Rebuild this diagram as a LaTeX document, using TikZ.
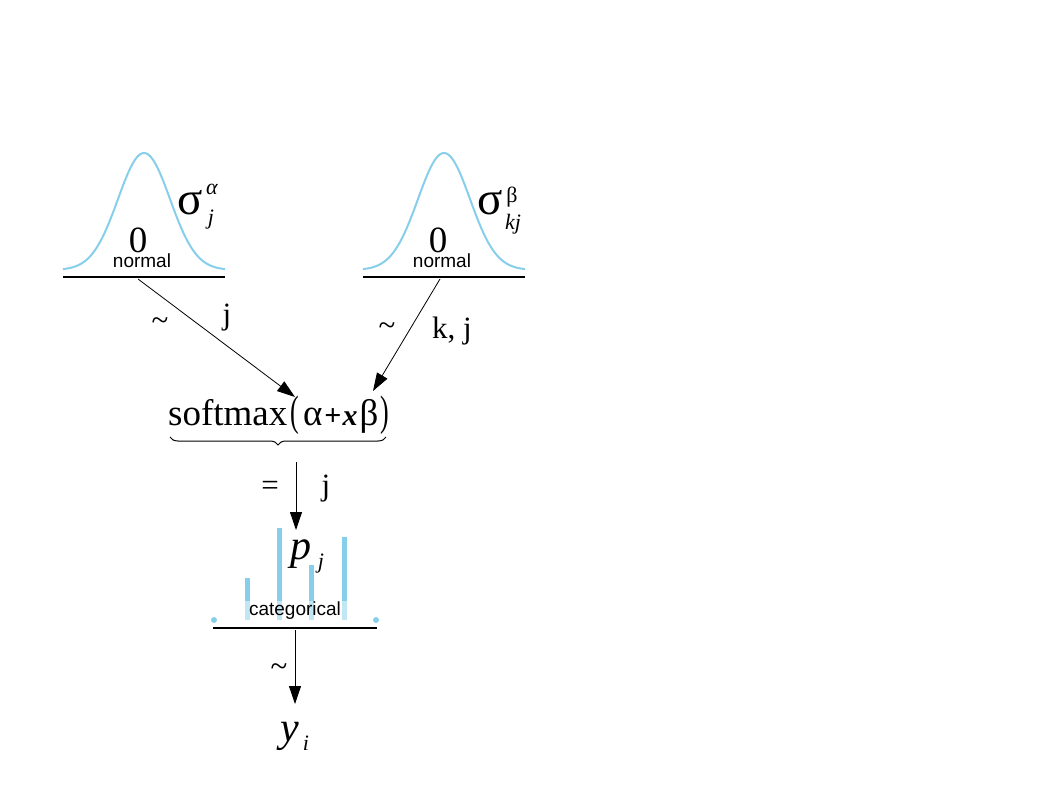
\documentclass[tikz,border=0pt]{standalone}
\usepackage{fontspec}
\setmainfont{Liberation Serif}
\newfontfamily\distfont{Liberation Sans}
\usetikzlibrary{arrows.meta,decorations.pathreplacing}
\definecolor{distblue}{HTML}{87CEEB}
\tikzset{
  distcurve/.style={distblue,line width=2pt},
  distbase/.style={line width=1.2pt},
  edge/.style={-{Triangle[length=18pt,width=12pt]},line width=0.8pt},
  lbl/.style={font=\fontsize{31}{31}\selectfont,anchor=base,inner sep=0pt},
  bigtxt/.style={font=\fontsize{37}{40}\selectfont,anchor=base,inner sep=0pt},
  subtxt/.style={font=\fontsize{22}{24}\selectfont,anchor=base,inner sep=0pt},
  distname/.style={font=\distfont\fontsize{19}{20}\selectfont,anchor=base,inner sep=0pt}
}
\newcommand{\tallparen}[1]{\scalebox{0.7}[1.15]{#1}}
\begin{document}
\begin{tikzpicture}[x=1pt,y=-1pt]
  \useasboundingbox (0,0) rectangle (1058,794);
  % prior on alpha
  \draw[distcurve] plot[domain=-81:81,samples=80,smooth] ({144+\x},{270-117*exp(-0.5*(\x/26)*(\x/26))});
  \draw[distbase] (63,277) -- (225,277);
  \node[bigtxt] (zeroA) at (138,253) {0};
  \node[distname] (normA) at (142,268) {normal};
  \node[bigtxt,font=\fontsize{47}{48}\selectfont] (sigA) at (190,215) {σ};
  \node[subtxt,font=\fontsize{22}{24}\selectfont\itshape] (supA) at (212,195) {α};
  \node[subtxt] (subA) at (211,225) {\textit{j}};
  \coordinate (botA) at (138,279);
  % prior on beta
  \draw[distcurve] plot[domain=-81:81,samples=80,smooth] ({444+\x},{270-117*exp(-0.5*(\x/26)*(\x/26))});
  \draw[distbase] (363,277) -- (525,277);
  \node[bigtxt] (zeroB) at (438,253) {0};
  \node[distname] (normB) at (442,268) {normal};
  \node[bigtxt,font=\fontsize{47}{48}\selectfont] (sigB) at (490,215) {σ};
  \node[subtxt] (supB) at (512,203) {β};
  \node[subtxt] (subB) at (513,230) {\textit{kj}};
  \coordinate (botB) at (440,279);
  % linear predictor
  \node[bigtxt,anchor=base west] (lin) at (168,425)
    {softmax\kern3pt\tallparen{(}\kern4pt α\kern2pt{\fontsize{30}{30}\selectfont\bfseries +\kern1pt\textit{x}}\kern2pt β\kern2pt\tallparen{)}};
  \coordinate (alphaIn) at (295,397);
  \coordinate (betaIn) at (373,391);
  \draw[decorate,decoration={brace,mirror,amplitude=8pt},line width=1pt] (170,437) -- (386,437);
  \coordinate (linOut) at (296,462);
  \draw[edge] (botA) -- (alphaIn);
  \node[lbl] (tilA) at (160,331) {\textasciitilde};
  \node[lbl] (idxA) at (227,325) {j};
  \draw[edge] (botB) -- (betaIn);
  \node[lbl] (tilB) at (387,336) {\textasciitilde};
  \node[lbl] (idxB) at (452,339) {k, j};
  % categorical
  \coordinate (pIn) at (296,530);
  \draw[edge] (linOut) -- (pIn);
  \node[lbl] (eqP) at (270,495) {=};
  \node[lbl] (idxP) at (326,495) {j};
  \foreach \bx/\btop in {247/578,279/528,311/565,344/537}
    \draw[distblue,line width=5pt] (\bx,620) -- (\bx,\btop);
  \fill[distblue] (214,620) circle (3);
  \fill[distblue] (376,620) circle (3);
  \node[distname,anchor=center,fill=white,fill opacity=0.5,text opacity=1,
        minimum width=104pt,minimum height=20pt] (catN) at (295,611) {categorical};
  \node[font=\fontsize{42}{44}\selectfont\itshape,anchor=base,inner sep=0pt] (pj) at (301,559) {p};
  \node[subtxt] (subP) at (321,568) {\textit{j}};
  \draw[distbase] (213,628) -- (377,628);
  % likelihood
  \coordinate (catOut) at (295,630);
  \coordinate (yIn) at (295,704);
  \draw[edge] (catOut) -- (yIn);
  \node[lbl] (tilY) at (279,676) {\textasciitilde};
  \node[font=\fontsize{42}{44}\selectfont\itshape,anchor=base,inner sep=0pt] (yi) at (290,741) {y};
  \node[subtxt] (subY) at (306,750) {\textit{i}};
\end{tikzpicture}
\end{document}
